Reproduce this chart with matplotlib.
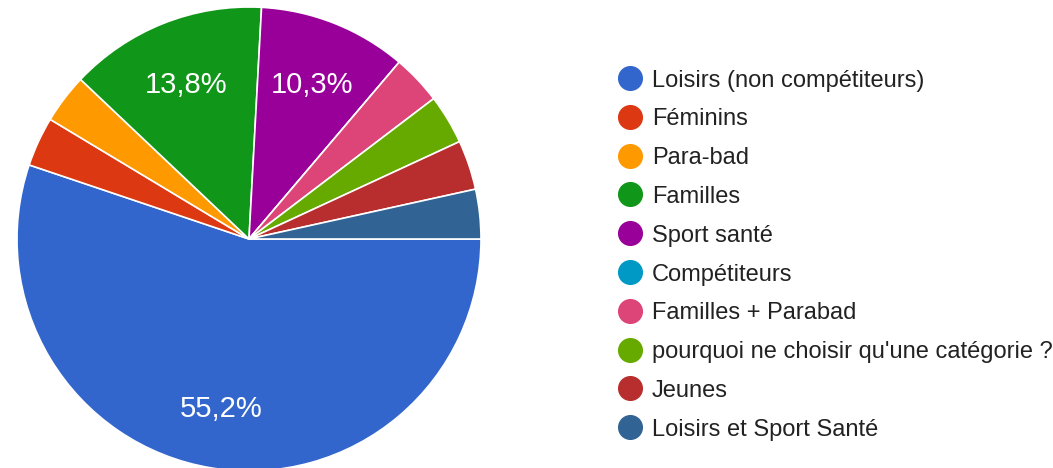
import matplotlib
matplotlib.use('Agg')
import matplotlib.pyplot as plt

plt.rcParams['font.family'] = ['Liberation Sans', 'DejaVu Sans']

categories = ['Loisirs (non compétiteurs)', 'Féminins', 'Para-bad', 'Familles',
              'Sport santé', 'Compétiteurs', 'Familles + Parabad',
              "pourquoi ne choisir qu'une catégorie ?", 'Jeunes',
              'Loisirs et Sport Santé']
counts = [16, 1, 1, 4, 3, 0, 1, 1, 1, 1]
colors = ['#3366cc', '#dc3912', '#ff9900', '#109618', '#990099',
          '#0099c6', '#dd4477', '#66aa00', '#b82e2e', '#316395']

W, H = 1053, 468
fig = plt.figure(figsize=(W / 100, H / 100), dpi=100)

# pie: centre (249, 239) px, radius 232 px
cx, cy, r = 249, 239, 232
ax = fig.add_axes([(cx - r) / W, (H - cy - r) / H, 2 * r / W, 2 * r / H])


def pct(p):
    if p < 5:
        return ''
    return ('%.1f%%' % p).replace('.', ',')


wedges, texts, autotexts = ax.pie(
    counts, colors=colors, startangle=0, counterclock=False,
    autopct=pct, pctdistance=0.73,
    wedgeprops=dict(edgecolor='white', linewidth=1.2),
    textprops=dict(color='white', fontsize=21))
for t in autotexts:
    t.set_va('center_baseline')
ax.set_xlim(-1, 1)
ax.set_ylim(-1, 1)
ax.set_aspect('auto')
for w in wedges:
    w.set_clip_on(False)

# legend drawn in pixel coordinates
lax = fig.add_axes([0, 0, 1, 1])
lax.set_xlim(0, W)
lax.set_ylim(H, 0)
lax.axis('off')
for i, (name, c) in enumerate(zip(categories, colors)):
    y = 78 + 38.8 * i
    lax.scatter([630], [y], s=290, color=c, zorder=3)
    lax.text(652, y, name, fontsize=17, color='#222222',
             va='center_baseline', ha='left')

fig.savefig('out.png', dpi=100)
